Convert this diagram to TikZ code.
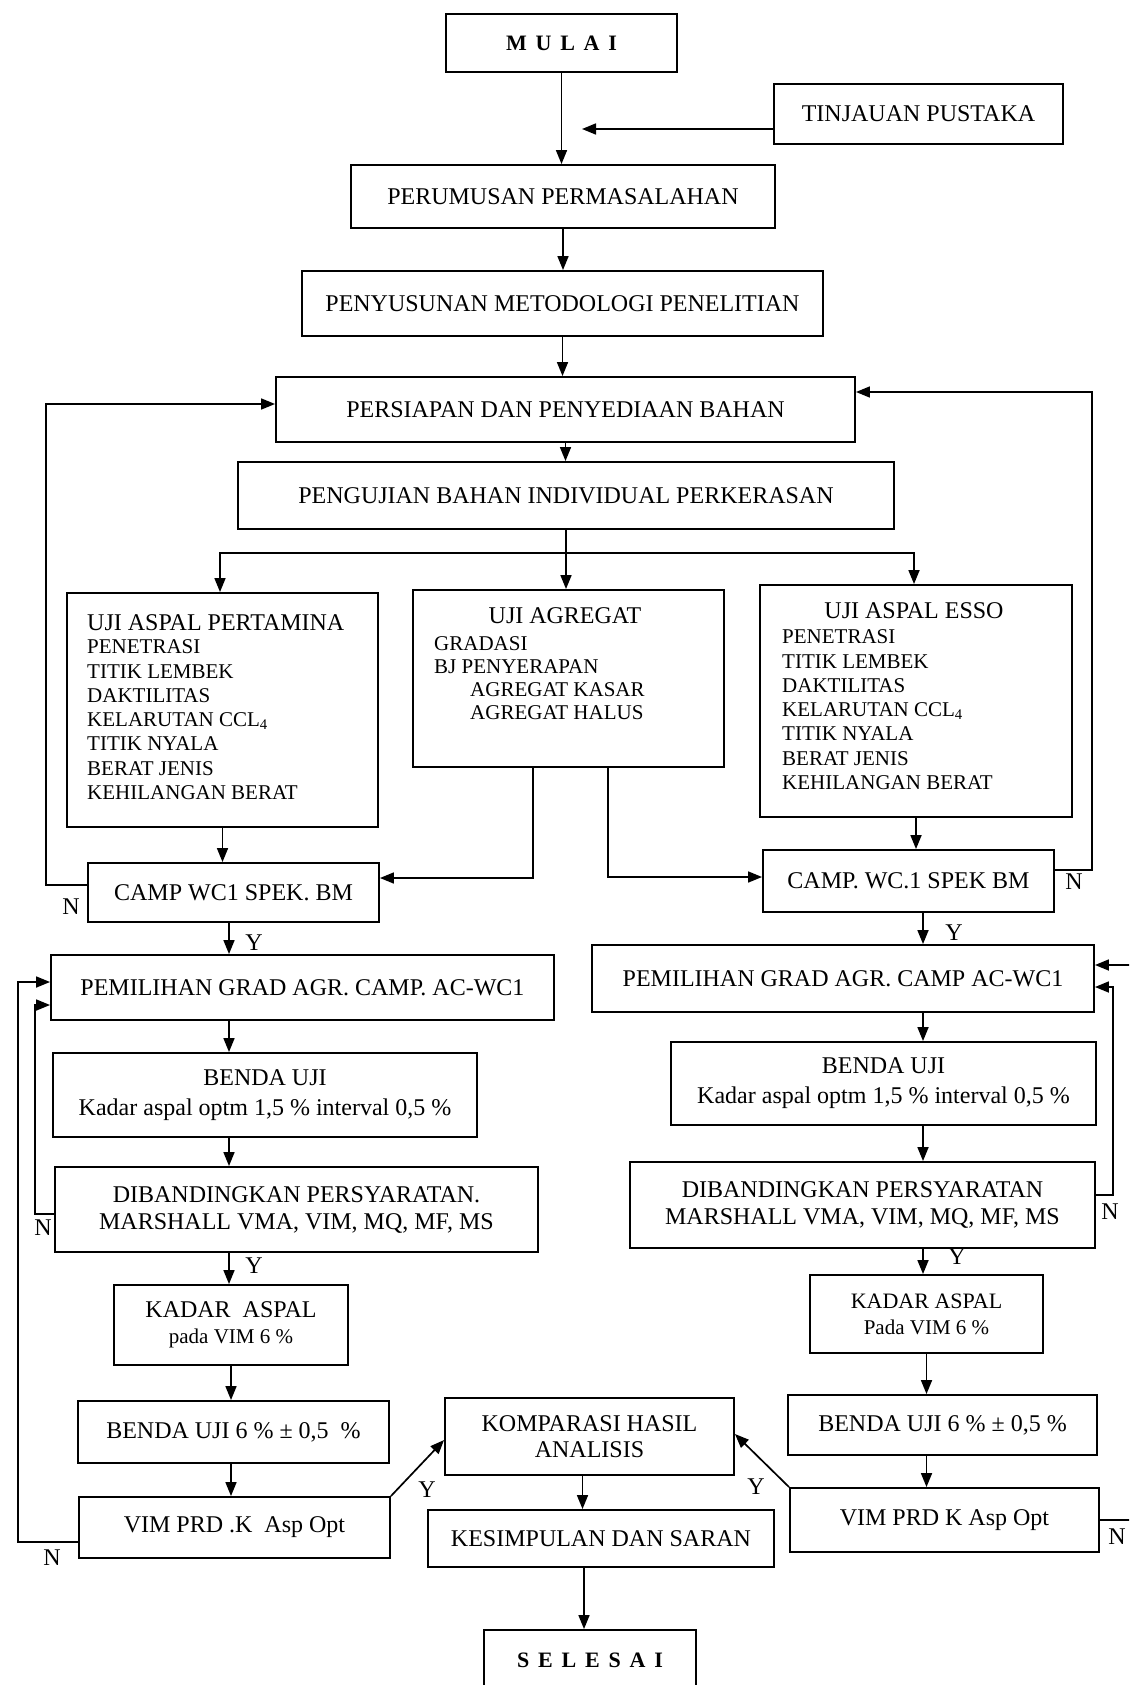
\documentclass[tikz,border=0pt]{standalone}
\usepackage{fontspec}
\setmainfont{Liberation Serif}
\newfontfamily\spacedfont[LetterSpace=40]{Liberation Serif}
\usepackage{tikz}
\usetikzlibrary{arrows.meta}
\tikzstyle{box}=[draw,line width=1.9pt,inner sep=0,align=center,font=\fontsize{24}{26}\selectfont]
\tikzstyle{head}=[inner sep=0,font=\fontsize{24}{26}\selectfont]
\tikzstyle{lst}=[inner sep=0,align=left,anchor=north west,font=\fontsize{21}{24.3}\selectfont]
\tikzstyle{arr}=[line width=1.7pt,-{Triangle[length=14pt,width=11pt]}]
\tikzstyle{yn}=[inner sep=0,font=\fontsize{24}{26}\selectfont]

\begin{document}
\begin{tikzpicture}[x=1pt,y=-1pt]
\useasboundingbox (0,0) rectangle (1129,1685);
\clip (0,0) rectangle (1129,1685);
\fill[white] (0,0) rectangle (1129,1685);

% alur atas
\node[box, minimum width=231pt, minimum height=58pt] (mulai) at (561.5,43) {\spacedfont\bfseries\fontsize{22}{24}\selectfont MULAI};
\node[box, minimum width=289pt, minimum height=60pt] (tinjauan) at (918.5,114) {TINJAUAN PUSTAKA};
\node[box, minimum width=424pt, minimum height=63pt] (perumusan) at (563,196.5) {PERUMUSAN PERMASALAHAN};
\node[box, minimum width=521pt, minimum height=65pt] (penyusunan) at (562.5,303.5) {PENYUSUNAN METODOLOGI PENELITIAN};
\node[box, minimum width=579pt, minimum height=65pt] (persiapan) at (565.5,409.5) {PERSIAPAN DAN PENYEDIAAN BAHAN};
\node[box, minimum width=656pt, minimum height=67pt] (pengujian) at (566,495.5) {PENGUJIAN BAHAN INDIVIDUAL PERKERASAN};

\coordinate (tinEnd) at (582,129);
\coordinate (split) at (567,553);
\draw[arr] (mulai.south) -- (mulai.south |- perumusan.north);
\draw[arr] (tinjauan.west |- tinEnd) -- (tinEnd);
\draw[arr] (perumusan.south) -- (perumusan.south |- penyusunan.north);
\draw[arr] (penyusunan.south) -- (penyusunan.south |- persiapan.north);
\draw[arr] (persiapan.south) -- (persiapan.south |- pengujian.north);

% pengujian bahan
\node[box, minimum width=311pt, minimum height=234pt] (pert) at (222.5,710) {};
\node[box, minimum width=311pt, minimum height=177pt] (agr) at (568.5,678.5) {};
\node[box, minimum width=312pt, minimum height=232pt] (esso) at (916,701) {};

\node[head, anchor=base west] (pertHead) at (87,630) {UJI ASPAL PERTAMINA};
\node[lst] (pertList) at (87,639.6) {PENETRASI\\TITIK LEMBEK\\DAKTILITAS\\KELARUTAN CCL\textsubscript{4}\\TITIK NYALA\\BERAT JENIS\\KEHILANGAN BERAT};
\node[head, anchor=base] (agrHead) at (565,623) {UJI AGREGAT};
\node[lst, font=\fontsize{21}{23}\selectfont] (agrList) at (434,636.6) {GRADASI\\BJ PENYERAPAN\\\hspace*{36pt}AGREGAT KASAR\\\hspace*{36pt}AGREGAT HALUS};
\node[head, anchor=base] (essoHead) at (914,618) {UJI ASPAL ESSO};
\node[lst] (essoList) at (782,629.6) {PENETRASI\\TITIK LEMBEK\\DAKTILITAS\\KELARUTAN CCL\textsubscript{4}\\TITIK NYALA\\BERAT JENIS\\KEHILANGAN BERAT};

\draw[arr] (pengujian.south) -- (pengujian.south |- agr.north);
\draw[arr] (split) -| ([xshift=-2.5pt]pert.north);
\draw[arr] (split) -| ([xshift=-2pt]esso.north);

% campuran
\node[box, minimum width=291pt, minimum height=59pt] (campL) at (233.5,892.5) {CAMP WC1 SPEK. BM};
\node[box, minimum width=291pt, minimum height=62pt] (campR) at (908.5,881) {CAMP. WC.1 SPEK BM};

\coordinate (agrL) at (533,878);
\coordinate (agrR) at (608,877);
\coordinate (loopL) at (46,404);
\coordinate (loopR) at (1092,392);
\draw[arr] (pert.south) -- (pert.south |- campL.north);
\draw[arr] (esso.south) -- (esso.south |- campR.north);
\draw[arr] (agr.south -| agrL) |- (agrL -| campL.east);
\draw[arr] (agr.south -| agrR) |- (agrR -| campR.west);
\draw[arr] ([yshift=7.5pt]campL.west) -| (loopL) -- (loopL -| persiapan.west);
\draw[arr] ([yshift=11pt]campR.east) -| (loopR) -- (loopR -| persiapan.east);
\node[yn] (nCampL) at (71,907) {N};
\node[yn] (nCampR) at (1074,882) {N};
\node[yn] (yCampL) at (254,943) {Y};
\node[yn] (yCampR) at (954,933) {Y};

% sisi kiri
\node[box, minimum width=503pt, minimum height=65pt] (pemL) at (302.5,987.5) {PEMILIHAN GRAD AGR. CAMP. AC-WC1};
\node[box, minimum width=424pt, minimum height=84pt] (bendaL) at (265,1095) {BENDA UJI\\[4pt]Kadar aspal optm 1,5 \% interval 0,5 \%};
\node[box, minimum width=483pt, minimum height=85pt] (dibL) at (296.5,1209.5) {DIBANDINGKAN PERSYARATAN.\\[1pt]MARSHALL VMA, VIM, MQ, MF, MS};
\node[box, minimum width=234pt, minimum height=80pt] (kadarL) at (231,1325) {KADAR~ ASPAL\\{\fontsize{21}{23}\selectfont pada VIM 6 \%}};
\node[box, minimum width=311pt, minimum height=62pt] (bendaEnamL) at (233.5,1432) {BENDA UJI 6 \% ± 0,5~ \%};
\node[box, minimum width=311pt, minimum height=61pt] (vimL) at (234.5,1527.5) {VIM PRD .K~ Asp Opt};

% sisi kanan
\node[box, minimum width=502pt, minimum height=67pt] (pemR) at (843,978.5) {PEMILIHAN GRAD AGR. CAMP AC-WC1};
\node[box, minimum width=425pt, minimum height=83pt] (bendaR) at (883.5,1083.5) {BENDA UJI\\[4pt]Kadar aspal optm 1,5 \% interval 0,5 \%};
\node[box, minimum width=465pt, minimum height=86pt] (dibR) at (862.5,1205) {DIBANDINGKAN PERSYARATAN\\[1pt]MARSHALL VMA, VIM, MQ, MF, MS};
\node[box, minimum width=233pt, minimum height=78pt] (kadarR) at (926.5,1314) {{\fontsize{22}{24}\selectfont KADAR ASPAL}\\{\fontsize{21}{23}\selectfont Pada VIM 6 \%}};
\node[box, minimum width=309pt, minimum height=60pt] (bendaEnamR) at (942.5,1425) {BENDA UJI 6 \% ± 0,5 \%};
\node[box, minimum width=309pt, minimum height=64pt] (vimR) at (944.5,1520) {VIM PRD K Asp Opt};

% akhir
\node[box, minimum width=289pt, minimum height=77pt] (komp) at (589.5,1436.5) {KOMPARASI HASIL\\ANALISIS};
\node[box, minimum width=346pt, minimum height=57pt] (kesim) at (601,1538.5) {KESIMPULAN DAN SARAN};
\node[box, minimum width=212pt, minimum height=60pt] (selesai) at (590,1660) {\spacedfont\bfseries\fontsize{22}{24}\selectfont SELESAI};

\coordinate (colL) at (229,0);
\coordinate (colR) at (923,0);
\draw[arr] (campL.south -| colL) -- (pemL.north -| colL);
\draw[arr] (pemL.south -| colL) -- (bendaL.north -| colL);
\draw[arr] (bendaL.south -| colL) -- (dibL.north -| colL);
\draw[arr] (dibL.south -| colL) -- (kadarL.north -| colL);
\draw[arr] (kadarL.south) -- (kadarL.south |- bendaEnamL.north);
\draw[arr] (bendaEnamL.south -| kadarL.south) -- (vimL.north -| kadarL.south);
\draw[arr] (campR.south -| colR) -- (pemR.north -| colR);
\draw[arr] (pemR.south -| colR) -- (bendaR.north -| colR);
\draw[arr] (bendaR.south -| colR) -- (dibR.north -| colR);
\draw[arr] (dibR.south -| colR) -- (kadarR.north -| colR);
\draw[arr] (kadarR.south) -- (kadarR.south |- bendaEnamR.north);
\draw[arr] (bendaEnamR.south -| kadarR.south) -- (vimR.north -| kadarR.south);

\coordinate (loopDibL) at (35,1005);
\coordinate (loopVimL) at (18,982);
\coordinate (loopDibR) at (1113,987);
\coordinate (loopVimR) at (1140,965);
\draw[arr] ([yshift=-4.5pt]dibL.west) -| (loopDibL) -- (loopDibL -| pemL.west);
\draw[arr] ([yshift=-14.5pt]vimL.west) -| (loopVimL) -- (loopVimL -| pemL.west);
\draw[arr] ([yshift=10pt]dibR.east) -| (loopDibR) -- (loopDibR -| pemR.east);
\draw[arr] (vimR.east) -| (loopVimR) -- (loopVimR -| pemR.east);

\draw[arr] (vimL.north east) -- ([yshift=-3.5pt]komp.west);
\draw[arr] (vimR.north west) -- ([yshift=2.5pt]komp.east);
\draw[arr] ([xshift=-7pt]komp.south) -- ([xshift=-7pt]komp.south |- kesim.north);
\draw[arr] ([xshift=-17pt]kesim.south) -- ([xshift=-17pt]kesim.south |- selesai.north);

\node[yn] (nDibL) at (43,1228) {N};
\node[yn] (nVimL) at (52,1558) {N};
\node[yn] (yDibL) at (254,1266) {Y};
\node[yn] (nDibR) at (1110,1212) {N};
\node[yn] (nVimR) at (1117,1537) {N};
\node[yn] (yDibR) at (957,1257) {Y};
\node[yn] (yVimL) at (427,1490) {Y};
\node[yn] (yVimR) at (756,1487) {Y};
\end{tikzpicture}
\end{document}
